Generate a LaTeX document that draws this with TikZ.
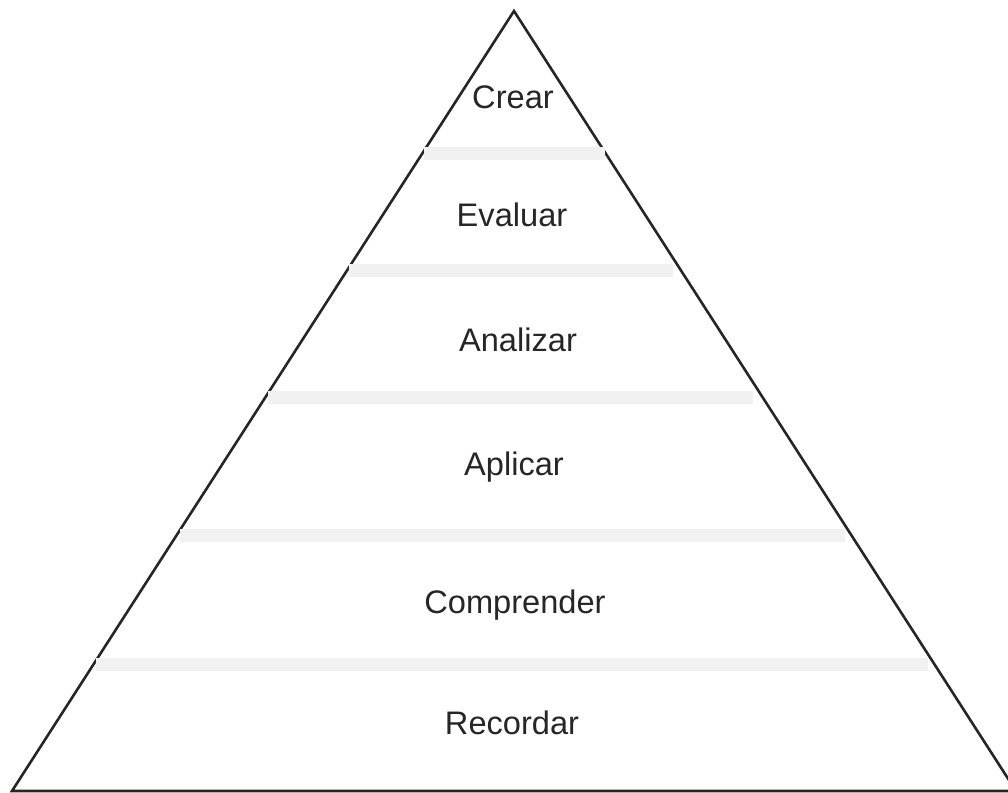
\documentclass[tikz,border=0pt]{standalone}
\usepackage{fontspec}
\setmainfont{Liberation Sans}
\definecolor{bandgray}{HTML}{F1F1F1}
\tikzset{
  edge/.style={line width=1.3pt, draw=black!85},
  band/.style={fill=bandgray, draw=none},
  level/.style={font=\fontsize{16.3}{18}\selectfont, text=black!85, inner sep=0pt}
}
\begin{document}
\begin{tikzpicture}[x=0.5pt,y=-0.5pt]
\useasboundingbox (0,0) rectangle (1008,793);
\clip (0,0) rectangle (1008,793);
\coordinate (apex) at (514,11);
\coordinate (bl) at (12,791);
\coordinate (br) at (1016,791);
\draw[edge, line join=miter] (bl) -- (apex) -- (br) -- cycle;
\fill[band] (424,147) rectangle (605,160);
\fill[band] (349,264) rectangle (673,277);
\fill[band] (268,391) rectangle (753,404);
\fill[band] (180,529) rectangle (845,542);
\fill[band] (96,658) rectangle (928,671);
\node[level] (crear) at (513,97) {Crear};
\node[level] (evaluar) at (512,215) {Evaluar};
\node[level] (analizar) at (518,340) {Analizar};
\node[level] (aplicar) at (514,467) {Aplicar};
\node[level] (comprender) at (515,605) {Comprender};
\node[level] (recordar) at (512,723) {Recordar};
\end{tikzpicture}
\end{document}
